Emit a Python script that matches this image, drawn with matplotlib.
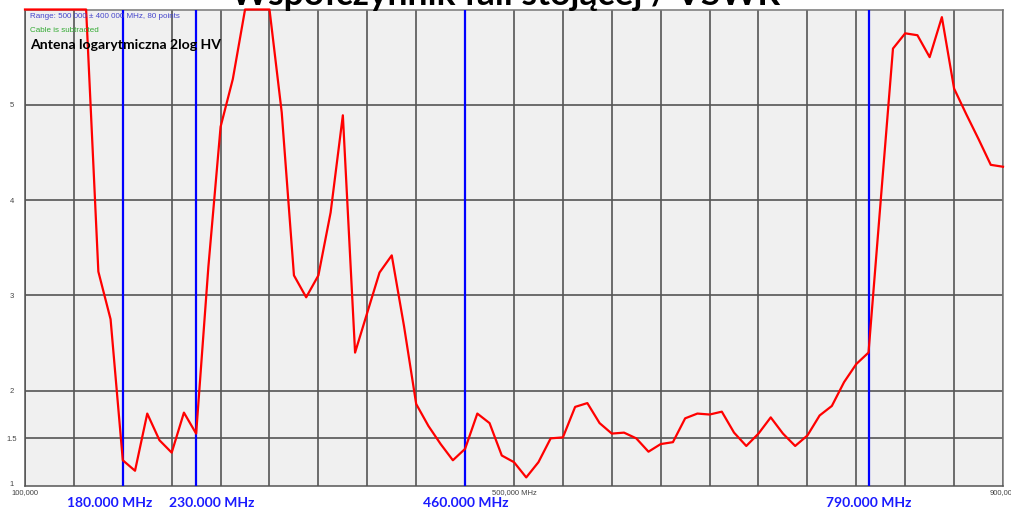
import matplotlib
matplotlib.use("Agg")
import matplotlib.pyplot as plt
import numpy as np
from matplotlib.transforms import blended_transform_factory, offset_copy

# ---------------- data ----------------
freq_mhz = list(range(100, 901, 10))
vswr = [6.0, 6.0, 6.0, 6.0, 6.0, 6.0, 3.25, 2.75, 1.27, 1.16,
        1.76, 1.48, 1.35, 1.77, 1.55, 3.30, 4.77, 5.27, 6.0, 6.0,
        6.0, 4.92, 3.21, 2.98, 3.21, 3.87, 4.89, 2.40, 2.82, 3.24,
        3.42, 2.68, 1.86, 1.63, 1.44, 1.27, 1.39, 1.76, 1.66, 1.32,
        1.25, 1.09, 1.25, 1.50, 1.51, 1.83, 1.87, 1.66, 1.55, 1.56,
        1.50, 1.36, 1.44, 1.46, 1.71, 1.76, 1.75, 1.78, 1.56, 1.42,
        1.55, 1.72, 1.55, 1.42, 1.53, 1.74, 1.84, 2.09, 2.28, 2.40,
        4.00, 5.59, 5.75, 5.73, 5.50, 5.92, 5.17, 4.90, 4.64, 4.37,
        4.35]
marker_freq = [180, 240, 460, 790]
marker_labels = ["180.000 MHz", "230.000 MHz", "460.000 MHz", "790.000 MHz"]
y_ticks = [1, 1.5, 2, 3, 4, 5]
y_tick_labels = ["1", "1.5", "2", "3", "4", "5"]
x_grid = list(range(100, 901, 40))
x_label_pos = [100, 500, 900]
x_label_text = ["100,000", "500,000 MHz", "900,000"]
title = "Współczynnik fali stojącej / VSWR"
info_lines = ["Range: 500 000 \u00b1 400 000 MHz, 80 points", "Cable is subtracted"]
antenna = "Antena logarytmiczna 2log HV"

# ---------------- figure ----------------
W, H = 1012, 510
fig = plt.figure(figsize=(W / 100, H / 100), dpi=100)
fig.patch.set_facecolor("white")
left, right, top, bottom = 25, 1003, 10.5, 487
ax = fig.add_axes([left / W, (H - bottom) / H, (right - left) / W, (bottom - top) / H])
ax.set_facecolor("#f0f0f0")
ax.set_xlim(100, 900)
ax.set_ylim(1, 6)

grid_col = "#555555"
for xv in x_grid:
    ax.axvline(xv, color=grid_col, lw=1.2, zorder=1)
for yv in y_ticks[1:]:
    ax.axhline(yv, color=grid_col, lw=1.2, zorder=1)
for s in ax.spines.values():
    s.set_color("#777777")
    s.set_linewidth(1.1)
ax.spines["bottom"].set_color(grid_col)
ax.spines["left"].set_color(grid_col)

ax.set_xticks([])
ax.set_yticks([])

# markers
for f in marker_freq:
    ax.axvline(f, color="#0000ff", lw=1.6, zorder=3)

# curve
ax.plot(freq_mhz, vswr, color="#ff0000", lw=1.6, zorder=5, clip_on=False)

# y tick labels
ytrans = blended_transform_factory(fig.transFigure, ax.transData)
for yv, lab in zip(y_ticks, y_tick_labels):
    dy = 2 if yv == 1 else 0
    fig.text(12 / W, yv, lab, transform=offset_copy(ytrans, fig=fig, y=dy, units="dots"),
             ha="center", va="center", fontsize=5.5, color="#444444",
             family="Liberation Sans")

# x tick labels
xtrans = blended_transform_factory(ax.transData, fig.transFigure)
for xv, lab in zip(x_label_pos, x_label_text):
    fig.text(xv, 1 - 493 / H, lab, transform=xtrans, ha="center", va="center",
             fontsize=5.5, color="#444444", family="Liberation Sans")

# marker labels
label_dx = [-13, 16, 1, 0]
for f, lab, dx in zip(marker_freq, marker_labels, label_dx):
    fig.text(f, 1 - 503 / H, lab,
             transform=offset_copy(xtrans, fig=fig, x=dx, units="dots"),
             ha="center", va="center", fontsize=10, fontweight="bold",
             color="#1a1aff", family="Lato")

# info texts
fig.text(30 / W, 1 - 17 / H, info_lines[0], ha="left", va="center", fontsize=5.8,
         color="#4444cc", family="Liberation Sans")
fig.text(30 / W, 1 - 31 / H, info_lines[1], ha="left", va="center", fontsize=5.8,
         color="#33aa33", family="Liberation Sans")
fig.text(30 / W, 1 - 45 / H, antenna, ha="left", va="center", fontsize=10.1,
         fontweight="bold", color="black", family="Lato")

# title (clipped at the top of the image)
fig.text(506 / W, 1 - 5 / H, title, ha="center", va="baseline", fontsize=25.5,
         fontweight="bold", color="black", family="Lato")

fig.savefig("out.png", dpi=100, facecolor="white")
